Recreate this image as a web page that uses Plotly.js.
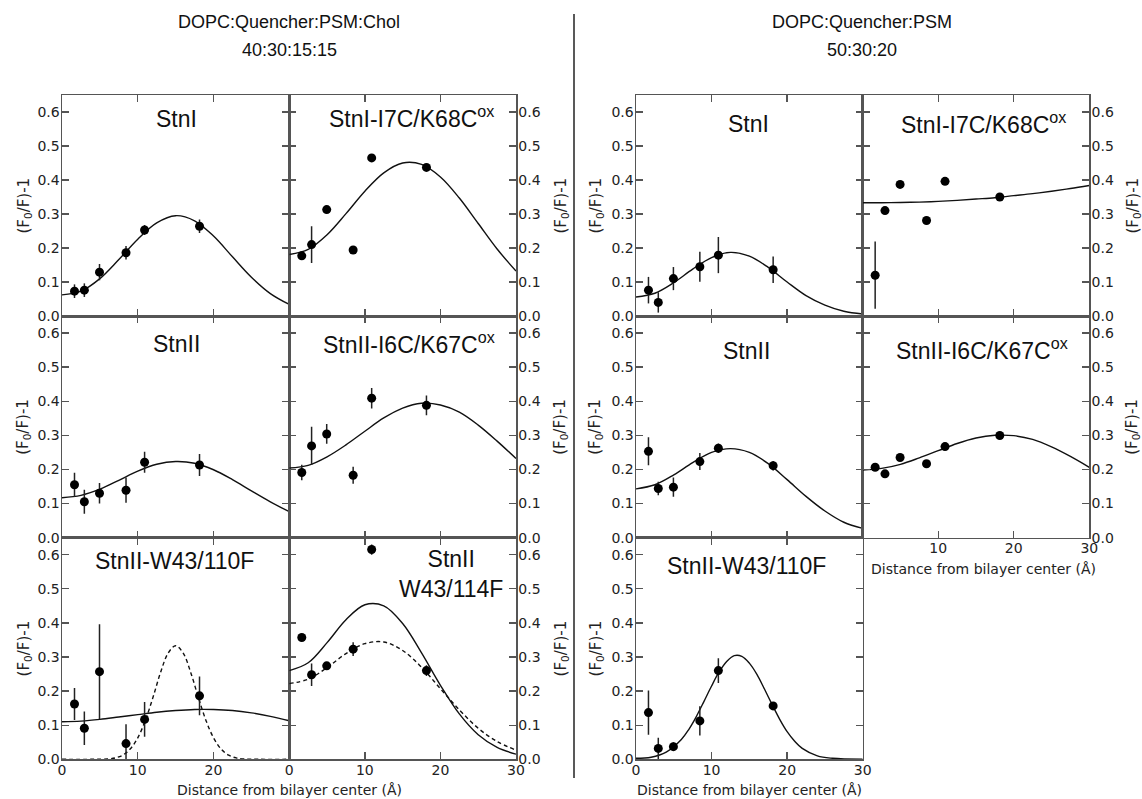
<!DOCTYPE html>
<html>
<head>
<meta charset="utf-8">
<script src="https://cdn.plot.ly/plotly-3.0.1.min.js"></script>
<style>html,body{margin:0;padding:0;background:#fff;}#chart{width:1142px;height:799px;}</style>
</head>
<body>
<div id="chart"></div>
<script>
// ---------------- DATA ----------------
const xDepth = [1.65, 2.95, 4.95, 8.45, 10.9, 18.15];
const xFit = [0, 2.5, 5, 7.5, 10, 12.5, 15, 17.5, 20, 22.5, 25, 27.5, 30];
const xFitNarrowL = [0, 4, 6, 7, 8, 9, 10, 11, 12, 13, 14, 15, 16, 17, 18, 19, 20, 21, 22, 23, 24, 26, 30];
const xFitNarrowR = [0, 2, 4, 6, 7, 8, 9, 10, 11, 12, 13, 14, 15, 16, 17, 18, 19, 20, 21, 22, 24, 26, 30];

// DOPC:Quencher:PSM:Chol 40:30:15:15
const cholStnI_y = [0.073, 0.076, 0.129, 0.186, 0.253, 0.264];
const cholStnI_err = [0.02, 0.02, 0.024, 0.02, 0.015, 0.02];
const cholStnI_fit = [0.062, 0.073, 0.110, 0.166, 0.226, 0.274, 0.295, 0.280, 0.235, 0.174, 0.114, 0.066, 0.034];

const cholStnIox_y = [0.177, 0.210, 0.313, 0.194, 0.465, 0.437];
const cholStnIox_err = [0, 0.054, 0, 0, 0, 0];
const cholStnIox_fit = [0.181, 0.196, 0.239, 0.301, 0.367, 0.421, 0.450, 0.446, 0.409, 0.347, 0.272, 0.197, 0.132];

const cholStnII_y = [0.155, 0.105, 0.130, 0.139, 0.221, 0.213];
const cholStnII_err = [0.035, 0.035, 0.03, 0.037, 0.031, 0.032];
const cholStnII_fit = [0.117, 0.124, 0.142, 0.168, 0.195, 0.215, 0.223, 0.218, 0.199, 0.170, 0.137, 0.105, 0.076];

const cholStnIIox_y = [0.191, 0.269, 0.304, 0.183, 0.409, 0.388];
const cholStnIIox_err = [0.023, 0.056, 0.029, 0.025, 0.03, 0.029];
const cholStnIIox_fit = [0.204, 0.212, 0.237, 0.272, 0.312, 0.351, 0.380, 0.394, 0.389, 0.368, 0.330, 0.283, 0.232];

const cholW110_y = [0.162, 0.091, 0.257, 0.046, 0.117, 0.186];
const cholW110_err = [0.047, 0.049, 0.139, 0.057, 0.051, 0.057];
const cholW110_fit = [0.110, 0.112, 0.117, 0.124, 0.131, 0.138, 0.143, 0.146, 0.146, 0.143, 0.136, 0.126, 0.113];
const cholW110_fit2 = [0, 0, 0.001, 0.004, 0.012, 0.030, 0.063, 0.114, 0.181, 0.254, 0.311, 0.333, 0.311, 0.254, 0.181, 0.114, 0.063, 0.030, 0.012, 0.004, 0.001, 0, 0];

const cholW114_y = [0.357, 0.248, 0.274, 0.323, 0.615, 0.260];
const cholW114_err = [0.008, 0.033, 0.01, 0.02, 0.015, 0.016];
const cholW114_fit = [0.260, 0.283, 0.342, 0.409, 0.453, 0.450, 0.398, 0.312, 0.217, 0.133, 0.072, 0.035, 0.015];
const cholW114_fit2 = [0.222, 0.235, 0.269, 0.310, 0.339, 0.344, 0.319, 0.270, 0.207, 0.145, 0.091, 0.052, 0.027];

// DOPC:Quencher:PSM 50:30:20
const psmStnI_y = [0.076, 0.040, 0.110, 0.145, 0.179, 0.136];
const psmStnI_err = [0.039, 0.03, 0.034, 0.044, 0.053, 0.039];
const psmStnI_fit = [0.056, 0.067, 0.098, 0.138, 0.172, 0.187, 0.176, 0.143, 0.100, 0.060, 0.032, 0.014, 0.006];

const psmStnIox_y = [0.120, 0.310, 0.387, 0.281, 0.396, 0.350];
const psmStnIox_err = [0.099, 0, 0, 0, 0, 0];
const psmStnIox_fit = [0.333, 0.333, 0.334, 0.335, 0.337, 0.340, 0.344, 0.348, 0.354, 0.360, 0.367, 0.375, 0.384];

const psmStnII_y = [0.253, 0.144, 0.148, 0.223, 0.262, 0.211];
const psmStnII_err = [0.041, 0.02, 0.028, 0.025, 0.014, 0.014];
const psmStnII_fit = [0.143, 0.155, 0.184, 0.220, 0.250, 0.261, 0.250, 0.217, 0.170, 0.121, 0.078, 0.045, 0.027];

const psmStnIIox_y = [0.2065, 0.187, 0.235, 0.2165, 0.267, 0.2995];
const psmStnIIox_err = [0, 0, 0, 0, 0, 0];
const psmStnIIox_fit = [0.198, 0.203, 0.215, 0.234, 0.255, 0.276, 0.292, 0.300, 0.299, 0.288, 0.266, 0.238, 0.206];

const psmW110_y = [0.137, 0.032, 0.037, 0.1125, 0.260, 0.1565];
const psmW110_err = [0.065, 0.031, 0.013, 0.043, 0.036, 0];
const psmW110_fit = [0.003, 0.006, 0.021, 0.058, 0.088, 0.126, 0.170, 0.215, 0.256, 0.287, 0.304, 0.302, 0.282, 0.249, 0.206, 0.161, 0.118, 0.081, 0.053, 0.032, 0.010, 0.003, 0];

const yTickVals = [0, 0.1, 0.2, 0.3, 0.4, 0.5, 0.6];
const yTickText = ['0.0', '0.1', '0.2', '0.3', '0.4', '0.5', '0.6'];
const xTickVals = [0, 10, 20, 30];

// ---------------- LAYOUT GEOMETRY ----------------
const W = 1142, H = 799;
const px = v => v / W;
const py = v => 1 - v / H;
const colsL = [[62, 289.3], [289.3, 516]];
const colsR = [[636, 862.7], [862.7, 1089.3]];
const rows = [[95, 316], [316, 537.6], [537.6, 759.3]];

const panels = [
  {cols: colsL, c: 0, r: 0, y: cholStnI_y, e: cholStnI_err, fits: [[xFit, cholStnI_fit, 'solid']], title: 'StnI', tx: 176, ty: 119, xl: null},
  {cols: colsL, c: 1, r: 0, y: cholStnIox_y, e: cholStnIox_err, fits: [[xFit, cholStnIox_fit, 'solid']], title: 'StnI-I7C/K68C<sup>ox</sup>', tx: 411, ty: 117, xl: null},
  {cols: colsL, c: 0, r: 1, y: cholStnII_y, e: cholStnII_err, fits: [[xFit, cholStnII_fit, 'solid']], title: 'StnII', tx: 176, ty: 344, xl: null},
  {cols: colsL, c: 1, r: 1, y: cholStnIIox_y, e: cholStnIIox_err, fits: [[xFit, cholStnIIox_fit, 'solid']], title: 'StnII-I6C/K67C<sup>ox</sup>', tx: 409, ty: 343, xl: null},
  {cols: colsL, c: 0, r: 2, y: cholW110_y, e: cholW110_err, fits: [[xFit, cholW110_fit, 'solid'], [xFitNarrowL, cholW110_fit2, 'dash']], title: 'StnII-W43/110F', tx: 174, ty: 561, xl: ['0', '10', '20', '']},
  {cols: colsL, c: 1, r: 2, y: cholW114_y, e: cholW114_err, fits: [[xFit, cholW114_fit, 'solid'], [xFit, cholW114_fit2, 'dash']], title: 'StnII<br>W43/114F', tx: 451, ty: 574, xl: ['0', '10', '20', '30']},
  {cols: colsR, c: 0, r: 0, y: psmStnI_y, e: psmStnI_err, fits: [[xFit, psmStnI_fit, 'solid']], title: 'StnI', tx: 748, ty: 124, xl: null},
  {cols: colsR, c: 1, r: 0, y: psmStnIox_y, e: psmStnIox_err, fits: [[xFit, psmStnIox_fit, 'solid']], title: 'StnI-I7C/K68C<sup>ox</sup>', tx: 983, ty: 123, xl: null},
  {cols: colsR, c: 0, r: 1, y: psmStnII_y, e: psmStnII_err, fits: [[xFit, psmStnII_fit, 'solid']], title: 'StnII', tx: 747, ty: 351, xl: null},
  {cols: colsR, c: 1, r: 1, y: psmStnIIox_y, e: psmStnIIox_err, fits: [[xFit, psmStnIIox_fit, 'solid']], title: 'StnII-I6C/K67C<sup>ox</sup>', tx: 982, ty: 349, xl: ['', '10', '20', '30']},
  {cols: colsR, c: 0, r: 2, y: psmW110_y, e: psmW110_err, fits: [[xFitNarrowR, psmW110_fit, 'solid']], title: 'StnII-W43/110F', tx: 747, ty: 566, xl: ['0', '10', '20', '30']}
];

const axColor = '#555';
const tickFont = {family: 'DejaVu Sans', size: 14, color: '#222'};
const traces = [];
const layout = {
  width: W, height: H,
  margin: {l: 0, r: 0, t: 0, b: 0},
  paper_bgcolor: '#fff', plot_bgcolor: 'rgba(0,0,0,0)',
  showlegend: false,
  annotations: [], shapes: []
};

panels.forEach((p, i) => {
  const n = i + 1;
  const xa = 'x' + (n === 1 ? '' : n), ya = 'y' + (n === 1 ? '' : n);
  const xk = 'xaxis' + (n === 1 ? '' : n), yk = 'yaxis' + (n === 1 ? '' : n);
  const col = p.cols[p.c], row = rows[p.r];
  layout[xk] = {
    domain: [px(col[0]), px(col[1])], anchor: ya, range: [0, 30],
    tickvals: xTickVals, ticktext: p.xl || ['', '', '', ''], showticklabels: !!p.xl,
    ticks: 'inside', ticklen: 7, tickwidth: 1.3, tickcolor: axColor, ticklabelstandoff: -3,
    showline: true, linecolor: axColor, linewidth: 1.5, mirror: 'ticks',
    showgrid: false, zeroline: false, tickfont: tickFont, fixedrange: true
  };
  layout[yk] = {
    domain: [py(row[1]), py(row[0])], anchor: xa, range: [0, 0.65],
    side: p.c === 0 ? 'left' : 'right',
    tickvals: yTickVals, ticktext: yTickText, showticklabels: true,
    ticks: 'inside', ticklen: 7, tickwidth: 1.3, tickcolor: axColor, ticklabelstandoff: -2,
    showline: true, linecolor: axColor, linewidth: 1.5, mirror: 'ticks',
    showgrid: false, zeroline: false, tickfont: tickFont, fixedrange: true
  };
  p.fits.forEach(f => {
    traces.push({
      x: f[0], y: f[1], xaxis: xa, yaxis: ya, type: 'scatter', mode: 'lines',
      line: {color: '#111', width: 1.4, dash: f[2] === 'dash' ? '4px,3px' : 'solid', shape: 'spline', smoothing: 1},
      hoverinfo: 'skip'
    });
  });
  traces.push({
    x: xDepth, y: p.y, xaxis: xa, yaxis: ya, type: 'scatter', mode: 'markers',
    marker: {color: '#000', size: 9},
    error_y: {type: 'data', array: p.e, visible: true, color: '#222', thickness: 1.5, width: 0},
    cliponaxis: false
  });
  layout.annotations.push({
    xref: 'paper', yref: 'paper', x: px(p.tx), y: py(p.ty), xanchor: 'center', yanchor: 'middle',
    text: p.title, showarrow: false, align: 'center',
    font: {family: 'Liberation Sans', size: 23, color: '#111'}
  });
  const yt = p.cols === colsL ? (p.c === 0 ? 24 : 561) : (p.c === 0 ? 596 : 1133);
  layout.annotations.push({
    xref: 'paper', yref: 'paper', x: px(yt), y: py((row[0] + row[1]) / 2), xanchor: 'center', yanchor: 'middle',
    text: '(F<sub>0</sub>/F)-1', textangle: -90, showarrow: false,
    font: {family: 'DejaVu Sans', size: 15, color: '#222'}
  });
});

const xTitle = 'Distance from bilayer center (Å)';
[[289, 790], [749, 790], [983, 569]].forEach(pos => {
  layout.annotations.push({
    xref: 'paper', yref: 'paper', x: px(pos[0]), y: py(pos[1]), xanchor: 'center', yanchor: 'middle',
    text: xTitle, showarrow: false, font: {family: 'DejaVu Sans', size: 14, color: '#222'}
  });
});

[['DOPC:Quencher:PSM:Chol', 289, 22], ['40:30:15:15', 289, 50], ['DOPC:Quencher:PSM', 862, 22], ['50:30:20', 862, 50]].forEach(t => {
  layout.annotations.push({
    xref: 'paper', yref: 'paper', x: px(t[1]), y: py(t[2]), xanchor: 'center', yanchor: 'middle',
    text: t[0], showarrow: false, font: {family: 'Liberation Sans', size: 18, color: '#111'}
  });
});

layout.shapes.push({type: 'line', xref: 'paper', yref: 'paper', x0: px(574), x1: px(574), y0: py(14), y1: py(778), line: {color: '#222', width: 1.5}});

Plotly.newPlot('chart', traces, layout, {displayModeBar: false, staticPlot: true});
</script>
</body>
</html>
